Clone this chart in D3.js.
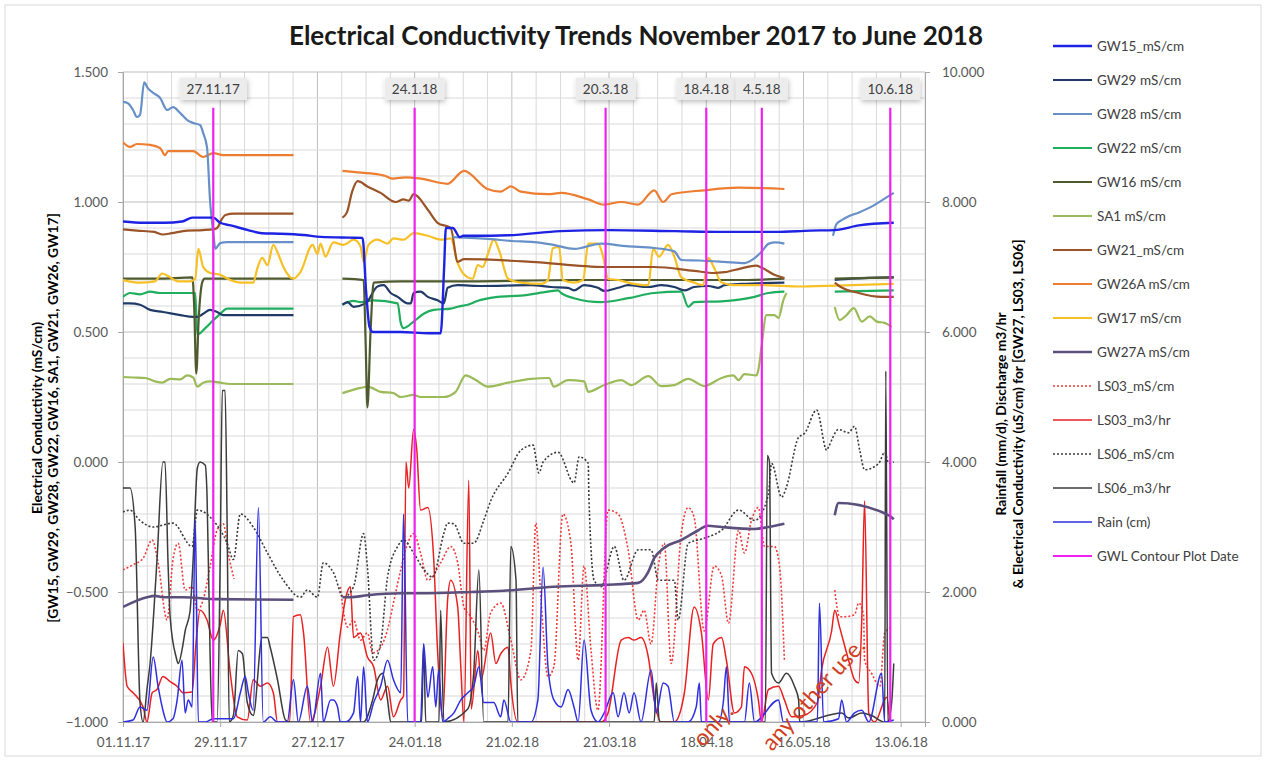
<!DOCTYPE html>
<html>
<head>
<meta charset="utf-8">
<script src="https://cdn.jsdelivr.net/npm/d3@7"></script>
<style>
  body { margin: 0; background: #fff; }
  text { font-family: Lato, "Open Sans", sans-serif; }
</style>
</head>
<body>
<svg id="chart" width="1264" height="760"></svg>
<script>
// Data: [day since 01.11.17, value]; null marks a gap in the record.
var startDate = Date.UTC(2017, 10, 1);

var gw15 = [[0,0.925],[6,0.92],[12,0.92],[17,0.925],[20,0.94],[26,0.94],[28,0.92],[31,0.91],[36,0.892],[40,0.88],[45,0.878],[52,0.873],[57,0.866],[65,0.863],[69,0.862],[70,0.66],[71,0.52],[72,0.5],[80,0.5],[88,0.495],[91.5,0.495],[92.5,0.75],[93,0.9],[95,0.9],[97,0.865],[98,0.87],[101,0.87],[111,0.872],[126,0.888],[140,0.892],[159,0.888],[173,0.885],[188,0.885],[198,0.89],[205,0.892],[212,0.91],[222,0.92]];
var gw29 = [[0,0.61],[2,0.61],[4.9,0.605],[7.8,0.585],[11.5,0.577],[16.5,0.565],[20.2,0.558],[21.4,0.558],[23.1,0.57],[25.1,0.585],[27.1,0.577],[28.9,0.565],[30.9,0.565],[49.1,0.565],[56,null],[63.2,0.605],[64.7,0.615],[66.4,0.597],[69.9,0.61],[73.3,0.675],[75.1,0.68],[77.1,0.65],[79.1,0.635],[82,0.61],[82.9,0.61],[83.7,0.65],[85.7,0.655],[87.8,0.635],[90.6,0.622],[92.4,0.61],[93.5,0.67],[96.4,0.68],[103.1,0.677],[117.5,0.68],[123.3,0.673],[128.2,0.67],[129.9,0.66],[132.8,0.68],[136.8,0.67],[138.6,0.658],[142.6,0.67],[145.5,0.68],[151.3,0.673],[155,0.68],[158.8,0.673],[161.7,0.66],[164.5,0.673],[168.6,0.677],[171.5,0.67],[173.2,0.68],[178.1,0.685],[190.5,0.69],[198,null],[205,0.70],[209.9,0.705],[222,0.71]];
var gw28 = [[0,1.385],[1.4,1.38],[2.9,1.354],[4,1.327],[4.9,1.335],[6.1,1.46],[7.2,1.437],[8.7,1.42],[10.7,1.40],[12.7,1.354],[14.4,1.365],[16.5,1.342],[18.5,1.315],[20.2,1.304],[22.2,1.296],[23.1,1.265],[24.2,1.21],[25.1,1.0],[26,0.88],[26.6,0.82],[28,0.842],[30,0.846],[49.1,0.846],[70,null],[95,0.865],[106,0.857],[112,0.85],[118.4,0.846],[124,0.835],[130,0.82],[137.7,0.84],[145,0.83],[153,0.823],[158.8,0.81],[160.8,0.777],[166,0.775],[173,0.77],[179,0.765],[182,0.785],[184,0.81],[186,0.84],[188,0.845],[190.5,0.84],[198,null],[204.5,0.87],[205.5,0.915],[207,0.93],[209,0.945],[212,0.96],[216,0.985],[219,1.01],[222,1.035]];
var gw22 = [[0,0.635],[2,0.65],[4.9,0.645],[7.8,0.655],[10.7,0.65],[13.6,0.65],[19.3,0.65],[20.8,0.65],[21.4,0.49],[23.7,0.515],[26,0.545],[28,0.57],[30,0.59],[49.1,0.59],[56,null],[63.2,0.605],[66.4,0.62],[68.4,0.615],[72.2,0.622],[79.1,0.61],[80,0.535],[80.8,0.515],[83.7,0.54],[86.6,0.57],[89.5,0.585],[94.4,0.59],[96.4,0.597],[99.3,0.605],[102.2,0.62],[108,0.635],[114.6,0.64],[122.4,0.655],[125.3,0.66],[126.2,0.65],[129.9,0.63],[137.7,0.615],[145.5,0.63],[153,0.65],[160.8,0.655],[162.8,0.597],[164.5,0.615],[172.4,0.618],[181.9,0.635],[185.9,0.65],[190.5,0.655],[198,null],[205,0.655],[222,0.66]];
var gw16 = [[0,0.705],[10,0.705],[20,0.71],[20.5,0.6],[21.1,0.34],[21.8,0.55],[22.8,0.69],[23.5,0.705],[49.1,0.705],[56,null],[63.2,0.705],[69.3,0.70],[69.9,0.45],[70.4,0.21],[71.3,0.5],[72.2,0.69],[80,0.695],[100,0.695],[130,0.70],[160,0.70],[180,0.70],[190.5,0.705],[198,null],[205,0.705],[222,0.71]];
var sa1 = [[0,0.327],[2.9,0.325],[6.4,0.323],[9.2,0.31],[11.3,0.305],[13.6,0.32],[16.5,0.318],[18.5,0.333],[20.2,0.325],[21.4,0.29],[23.1,0.305],[25.1,0.31],[28,0.305],[30.9,0.30],[49.1,0.30],[56,null],[63.2,0.265],[68.4,0.285],[70.4,0.29],[74.2,0.27],[77.9,0.265],[80,0.25],[83.7,0.258],[85.7,0.25],[92.4,0.25],[95.8,0.27],[98.7,0.333],[101.6,0.315],[105.1,0.29],[110.9,0.305],[117.5,0.32],[122.7,0.323],[124.1,0.29],[128.2,0.315],[132.8,0.31],[134,0.27],[138.6,0.296],[143.5,0.315],[146.4,0.296],[151.3,0.33],[155,0.292],[158.8,0.296],[162.8,0.32],[167.4,0.292],[172.4,0.323],[175.8,0.333],[177.3,0.315],[179,0.338],[182.4,0.333],[183,0.354],[183.9,0.442],[185.3,0.565],[187.6,0.565],[188.8,0.554],[190.2,0.623],[191.1,0.65],[198,null],[205,0.596],[206.4,0.546],[208.4,0.565],[210.5,0.592],[212.8,0.54],[215.1,0.56],[217.1,0.54],[219.4,0.535],[221.4,0.52]];
var gw21 = [[0,0.895],[4,0.89],[9,0.885],[11.5,0.875],[14,0.88],[18.5,0.89],[23,0.892],[26,0.895],[27.1,0.9],[28.5,0.935],[29.5,0.95],[32,0.955],[49.1,0.955],[56,null],[63.2,0.94],[64.5,0.96],[66,1.04],[67.6,1.08],[70.4,1.06],[74.2,1.035],[78.5,1.0],[80.8,1.01],[82.3,1.005],[83.7,1.03],[87.8,0.97],[90.6,0.92],[94.4,0.9],[96.4,0.77],[98.2,0.78],[117.5,0.77],[138.6,0.75],[153,0.75],[164.5,0.735],[170.3,0.727],[173.2,0.73],[178.1,0.745],[182.4,0.755],[183.9,0.748],[187.6,0.72],[190.5,0.707],[198,null],[205,0.69],[206.5,0.675],[211.9,0.65],[218.5,0.635],[222,0.635]];
var gw26a = [[0,1.23],[2,1.212],[4,1.223],[7.8,1.22],[10.7,1.207],[12.1,1.18],[13,1.196],[15.6,1.196],[20.2,1.196],[23.1,1.173],[26,1.188],[28.9,1.18],[49.1,1.18],[56,null],[63.2,1.12],[67,1.115],[71.3,1.11],[75.6,1.10],[77.7,1.09],[81.4,1.095],[85.7,1.09],[93.5,1.07],[98.2,1.12],[105,1.05],[108.8,1.04],[111.7,1.06],[114.6,1.04],[122.4,1.03],[126.2,1.035],[134,1.01],[138.6,0.99],[143.5,1.0],[148.4,0.99],[153,1.045],[155.6,1.0],[158,1.03],[167.4,1.045],[177.3,1.055],[190.5,1.05]];
var gw17 = [[0,0.70],[4.9,0.69],[9.2,0.695],[11.3,0.725],[13,0.715],[15.9,0.695],[19.3,0.695],[20.8,0.705],[21.7,0.82],[23.1,0.75],[25.1,0.727],[28,0.72],[30.9,0.70],[33.8,0.69],[37.5,0.69],[38.7,0.745],[40.1,0.785],[41.6,0.757],[43.3,0.835],[44.7,0.80],[46.2,0.75],[49.1,0.705],[51.1,0.73],[54.6,0.835],[56,0.80],[56.9,0.84],[58.3,0.79],[60.6,0.845],[63.5,0.835],[66.4,0.855],[68.4,0.83],[69.3,0.77],[70.7,0.835],[73.3,0.855],[76.2,0.84],[77.9,0.86],[80.8,0.855],[83.7,0.88],[87.8,0.87],[91.5,0.855],[94.4,0.86],[96.4,0.765],[99.3,0.71],[100.7,0.705],[102.2,0.757],[103.6,0.75],[105.1,0.80],[106.8,0.855],[108.3,0.815],[110.9,0.705],[114.6,0.69],[120.4,0.685],[122.4,0.70],[123.8,0.822],[125.6,0.827],[126.7,0.70],[129.9,0.69],[132.5,0.70],[134,0.84],[136.8,0.84],[138.3,0.79],[139.7,0.705],[142.6,0.70],[145.5,0.69],[151.3,0.68],[152.7,0.82],[154.4,0.79],[157,0.835],[158.8,0.79],[160.8,0.71],[164.5,0.69],[167.1,0.68],[168.6,0.785],[170.3,0.745],[172.4,0.69],[176.1,0.68],[183.9,0.68],[195.4,0.675],[209.9,0.68],[222,0.685]];

var gw27a = [[0,1.77],[6.9,1.92],[9.2,1.94],[11.5,1.92],[17.3,1.92],[27.1,1.89],[49.1,1.88],[56,null],[63.2,1.92],[65.5,1.92],[70.4,1.95],[80,1.98],[85.7,1.98],[100.2,2.0],[109.7,2.02],[124.1,2.08],[138.6,2.11],[148.4,2.14],[151.3,2.31],[153,2.52],[155.9,2.68],[160.8,2.8],[165.7,2.95],[168.3,3.02],[172.4,3.0],[181.9,2.97],[185.9,3.0],[190.5,3.05],[198,null],[205,3.18],[206.1,3.37],[220.6,3.18],[222,3.12]];
var ls03Ec = [[0,2.34],[2.9,2.42],[5.8,2.52],[8.4,2.8],[10.1,2.45],[12.7,1.57],[14.4,2.5],[15.9,2.75],[17.9,2.03],[19.9,2.08],[21.4,1.72],[23.1,1.88],[25.1,2.4],[27.1,2.95],[28.9,3.05],[30.3,2.6],[32,2.2],[45,null],[62.6,2.08],[64.7,1.46],[66.4,1.57],[68.4,1.26],[70.4,1.37],[71.9,1.06],[74.2,1.15],[76.2,1.42],[77.9,1.83],[80,2.34],[82,2.75],[83.7,2.9],[85.7,2.6],[87.8,2.18],[91.5,2.45],[94.4,2.7],[96.4,2.45],[98.2,1.77],[100.2,1.62],[102.5,1.35],[103.9,1.1],[105.9,1.68],[108.8,1.83],[111.7,1.26],[114.6,0.65],[117.5,1.1],[118.9,3.06],[120.4,1.88],[122.4,0.7],[124.1,0.85],[126.7,3.2],[129,2.75],[131.1,0.95],[132.8,2.4],[134.8,1.1],[136.8,0.18],[139.7,3.26],[142.6,3.2],[145.5,2.65],[148.4,1.57],[150.1,1.72],[152.1,1.2],[154.2,2.4],[155.9,2.75],[157.9,0.9],[160.8,2.9],[162.8,3.3],[164.5,3.15],[167.4,1.4],[170.3,2.4],[172.4,2.25],[174.4,1.52],[177.3,2.95],[179,2.6],[181,3.1],[183,3.3],[184.8,2.7],[187.6,2.7],[189.1,2.4],[190.5,0.95],[198,null],[205,2.03],[206.4,1.62],[207.9,1.62],[210.7,1.65],[211.9,1.83],[213.3,1.65],[213.6,0.95],[215.6,0.75],[218,0.55],[219.4,1.37],[221.4,1.46]];
var ls03Flow = [[0,1.22],[1.2,0.55],[2.9,0.45],[5.8,0.23],[6.9,0],[8.4,0.45],[9.8,0.5],[11.5,0.7],[13.6,0.62],[15.6,0.55],[17.3,0.45],[19.9,0.46],[21,1.2],[22.2,1.72],[24.2,1.57],[26,1.26],[28,1.5],[28.9,1.72],[30.9,0.75],[32.9,0.08],[35.8,0.03],[37.5,0.65],[39.6,0.55],[41.6,0.6],[43.3,0.45],[44.5,0],[48,0],[49.1,1.62],[51.1,1.65],[52,1.37],[54,0],[56.9,0.55],[58.9,1.15],[60.6,0.55],[62.6,1.37],[64.1,1.9],[65.5,2.08],[66.4,1.3],[68.4,1.37],[70.4,1.0],[72.2,0.85],[74.2,0.34],[76.2,0.55],[77.9,0.08],[80,0.34],[80.8,0.4],[81.5,4.0],[82.3,3.6],[83.7,4.5],[84.6,4.2],[85.7,3.26],[87.8,3.3],[89.5,2.5],[90.6,1.1],[92.1,0.08],[93.5,1.88],[94.4,2.18],[96.4,1.77],[97.3,0.85],[98.2,0],[99.6,3.72],[100.3,0.2],[102.2,1.1],[103.1,0.65],[105.9,1.37],[107.4,0.9],[108.8,1.05],[110.9,1.15],[111.7,0.6],[113.7,0],[137.7,0],[139.7,0.14],[143.5,1.26],[145.5,1.3],[147.2,1.26],[149.2,1.3],[151.3,1.0],[153,0.34],[155,0],[158.8,0],[161.7,0.45],[164.5,1.77],[166.6,1.37],[168.6,0.34],[170,1.2],[172.4,1.3],[173.8,0.95],[176.1,0.14],[178.1,0.23],[179,0.85],[181,0.75],[183,0.34],[183.9,0],[185.9,0.5],[188.8,0.55],[190.5,0.34],[192.6,0.08],[196,0.1],[200,0.3],[201.2,0.8],[204.1,1.4],[205,1.72],[206.4,1.46],[209,0.95],[210.7,0.65],[211.9,0.6],[212.8,1.6],[213.6,3.4],[214.8,0.14],[216.5,0],[220,0.38],[220.8,0]];
var ls06Ec = [[0,3.23],[2,3.26],[4.9,3.1],[8.7,3.0],[14.4,3.06],[19.9,2.7],[21.4,3.26],[26,3.1],[30,2.75],[31.8,2.5],[33.8,3.2],[37.5,3.0],[41.6,2.6],[46.2,2.18],[51.1,1.92],[53.1,2.03],[56,1.92],[57.7,2.45],[60.6,2.3],[63.5,1.92],[66.4,2.08],[69.3,2.9],[70.4,2.38],[72.2,0.95],[74.2,1.2],[76.2,2.23],[79.1,2.7],[80.8,2.8],[83.7,2.6],[86.6,2.35],[89.2,2.23],[92.4,2.9],[93.5,3.06],[95.3,3.05],[98.2,2.75],[101,2.75],[103.9,3.1],[105.9,3.4],[110.9,3.83],[114.6,4.18],[118.1,4.26],[119.8,3.83],[121,4.0],[125.3,4.15],[129.9,3.68],[131.4,4.08],[134,3.98],[134.2,3.46],[135.7,2.18],[137.7,2.08],[141.5,2.7],[144.3,2.18],[148.4,2.65],[152.1,2.65],[154.2,2.18],[158.8,2.18],[159.9,1.57],[162.8,2.75],[165.7,2.8],[168.6,2.85],[172.4,2.95],[177.3,3.26],[181.9,3.1],[185.9,3.5],[186.8,3.98],[189.7,3.46],[191,3.6],[194.6,4.38],[196.3,4.44],[199.8,4.8],[202.7,4.18],[203.2,4.23],[206.1,4.5],[209,4.45],[210.7,4.55],[212.2,4.18],[213.6,3.88],[217.7,3.98],[219.4,4.15],[220.6,3.98],[222,4.0]];
var ls06Flow = [[0,3.6],[2,3.6],[3.5,3.0],[4.9,0.3],[5.8,0],[6.9,0.5],[7.8,0.9],[9.8,2.5],[11.5,4.0],[12.1,4.0],[13,2.4],[13.6,1.6],[15.3,1.0],[15.9,0.9],[17.3,1.2],[17.9,1.4],[19.3,1.7],[20.2,2.5],[21.4,3.9],[22.2,4.0],[23.7,3.95],[24.2,3.5],[25.1,1.0],[25.7,0],[27.1,0],[28,2.5],[28.6,5.1],[29.4,5.1],[30,3.0],[30.6,0],[31.8,0.1],[33.2,1.1],[34.4,1.05],[35.8,0.3],[37.5,0.1],[40.1,1.3],[41.6,1.3],[42.4,1.15],[44.5,0.65],[46.8,0.03],[48,0],[69.3,0],[71.9,0.34],[73.3,0.65],[74.8,0.75],[76.2,0.34],[77.1,0],[86,0],[86.6,1.2],[87.2,0],[91,0],[91.5,1.72],[92.4,0],[99.3,0.2],[101,0.75],[102.5,2.34],[103.9,0],[110.9,0],[111.7,2.7],[113.2,2.18],[113.7,0],[153,0],[153.6,0.6],[154.5,0],[185,0],[185.6,4.1],[186.2,4.0],[186.8,0.75],[188.8,0.6],[191.1,0.75],[193.4,0.55],[194.6,0.34],[194.9,0],[207,0.14],[209,0.06],[212.8,0.14],[215.6,0.1],[219.4,0],[219.7,5.4],[220.3,0],[221.4,0.3],[222,0.9]];
var rain = [[0,0],[2.9,0.03],[4.9,0.23],[6.9,0.18],[8.7,1.0],[10.1,0.55],[11.5,0.18],[12.7,0],[14.4,0.05],[15.6,0.34],[17,0.95],[17.9,0.14],[18.8,0.34],[19.9,0.23],[20.8,3.1],[21.7,0],[23.7,0],[26,0.05],[28,0.05],[31.8,0.05],[33.8,0.45],[35.2,0.7],[36.1,0.45],[37.5,0.18],[39,3.3],[40.4,0],[42.4,0.08],[44.5,0],[47.3,0],[49.1,0.65],[50.5,0],[53.1,0.55],[54.6,0],[56.9,0.75],[57.7,0],[59.8,0.34],[60.6,0.34],[61.8,0.23],[62.6,0],[64.1,0],[66.4,0.14],[67.6,0.7],[68.4,0],[69.3,0.85],[70.4,0],[72.2,0.3],[74.2,0.55],[76.2,0.95],[77.9,0.65],[80,0.45],[80.8,3.2],[82,0],[85.7,0],[86.6,1.2],[87.8,0.38],[89.2,0.85],[90.1,0.23],[90.9,0.8],[92.1,0],[93.5,0.05],[95.3,0.14],[97.3,0.34],[99.3,0.45],[101,0.55],[102.5,0.85],[103.9,0.3],[106.8,0.3],[108.8,0.08],[109.7,0.34],[111.7,0],[117.5,0],[119.5,0.34],[121,2.38],[122.4,0.85],[124.1,0.34],[126.2,0.23],[128.2,0.5],[129.9,0.23],[131.1,0],[132.8,1.26],[134.8,0.18],[136.8,0],[138.6,0.14],[141.2,0.45],[142.6,0.08],[144.3,0.45],[145.8,0.14],[147.2,0.45],[149.2,0],[152.1,0.8],[153.6,0.14],[155.6,0.6],[157,0.55],[158.8,0],[162.8,0],[165.1,0.23],[166,0.6],[166.6,0],[171.5,0],[172.9,0.3],[173.8,0.85],[174.7,0],[179,0],[180.4,0.6],[181.9,0],[188.8,0.34],[190.2,0],[200,0],[200.6,1.83],[201.8,0],[206.1,0.05],[207,0.34],[208.4,0],[210.7,0.14],[212.8,0.18],[214.8,0],[218.5,0.75],[219.4,0],[222,0.03]];

// GWL contour plot dates (day number) and their labels.
var contourDays = [26, 84, 139, 168, 184, 221];
var contourLabels = ["27.11.17", "24.1.18", "20.3.18", "18.4.18", "4.5.18", "10.6.18"];
var contourTop = 9.45;

var leftTicks = [-1, -0.5, 0, 0.5, 1, 1.5];
var rightTicks = [0, 2, 4, 6, 8, 10];
var labelDays = [0, 28, 56, 84, 112, 140, 168, 196, 224];

var series = [
  { name: "LS03_mS/cm", data: ls03Ec, axis: "right", color: "#f03a3a", width: 1.6, dash: "2,2" },
  { name: "LS03_m3/hr", data: ls03Flow, axis: "right", color: "#e82020", width: 1.5 },
  { name: "LS06_mS/cm", data: ls06Ec, axis: "right", color: "#3a3a3a", width: 1.6, dash: "2,2" },
  { name: "LS06_m3/hr", data: ls06Flow, axis: "right", color: "#3b3b3b", width: 1.5 },
  { name: "Rain (cm)", data: rain, axis: "right", color: "#2f2fe0", width: 1.5 },
  { name: "GW27A mS/cm", data: gw27a, axis: "right", color: "#5b4f7c", width: 2.6 },
  { name: "SA1 mS/cm", data: sa1, axis: "left", color: "#9bbb59", width: 2.2 },
  { name: "GW22 mS/cm", data: gw22, axis: "left", color: "#1fae5e", width: 2.2 },
  { name: "GW29 mS/cm", data: gw29, axis: "left", color: "#213b68", width: 2.2 },
  { name: "GW16 mS/cm", data: gw16, axis: "left", color: "#4f5b2e", width: 2.2 },
  { name: "GW17 mS/cm", data: gw17, axis: "left", color: "#f6c026", width: 2.2 },
  { name: "GW21_mS/cm", data: gw21, axis: "left", color: "#9a5428", width: 2.2 },
  { name: "GW26A mS/cm", data: gw26a, axis: "left", color: "#ed7d31", width: 2.2 },
  { name: "GW28 mS/cm", data: gw28, axis: "left", color: "#6790c8", width: 2.2 },
  { name: "GW15_mS/cm", data: gw15, axis: "left", color: "#1e22e2", width: 2.4 }
];

var legendOrder = ["GW15_mS/cm", "GW29 mS/cm", "GW28 mS/cm", "GW22 mS/cm", "GW16 mS/cm",
  "SA1 mS/cm", "GW21_mS/cm", "GW26A mS/cm", "GW17 mS/cm", "GW27A mS/cm", "LS03_mS/cm",
  "LS03_m3/hr", "LS06_mS/cm", "LS06_m3/hr", "Rain (cm)", "GWL Contour Plot Date"];
var contourColor = "#ee22ee";

function toDate(day) {
  return new Date(startDate + day * 864e5);
}

var svg = d3.select("#chart");

// Outer frame of the chart.
svg.append("rect")
  .attr("x", 5).attr("y", 5).attr("width", 1256).attr("height", 751)
  .attr("fill", "#fff").attr("stroke", "#d9d9d9");

var x = d3.scaleUtc().domain([toDate(0), toDate(231)]).range([123, 925]);
var yL = d3.scaleLinear().domain([-1, 1.5]).range([722, 72]);
var yR = d3.scaleLinear().domain([0, 10]).range([722, 72]);

// Gridlines: minor every week / 0.1, major every 4 weeks / 0.5.
var grid = svg.append("g");
d3.range(0, 232, 7).forEach(function (d) {
  grid.append("line")
    .attr("x1", x(toDate(d))).attr("x2", x(toDate(d)))
    .attr("y1", 72).attr("y2", 722)
    .attr("stroke", d % 28 === 0 ? "#bfbfbf" : "#d9d9d9").attr("stroke-width", 1);
});
d3.range(-10, 16).forEach(function (i) {
  var v = i / 10;
  grid.append("line")
    .attr("x1", 123).attr("x2", 925)
    .attr("y1", yL(v)).attr("y2", yL(v))
    .attr("stroke", i % 5 === 0 ? "#bfbfbf" : "#d9d9d9").attr("stroke-width", 1);
});

// Axes.
function styleAxis(g) {
  g.selectAll("path").attr("stroke", "#a6a6a6");
  g.selectAll("line").attr("stroke", "#a6a6a6");
  g.selectAll("text").attr("fill", "#595959").attr("font-size", 13.5)
    .attr("font-family", "Lato, sans-serif");
}

svg.append("g")
  .attr("transform", "translate(123,0)")
  .call(d3.axisLeft(yL).tickValues(leftTicks).tickFormat(d3.format(".3f")).tickSize(5).tickPadding(10))
  .call(styleAxis);

svg.append("g")
  .attr("transform", "translate(925,0)")
  .call(d3.axisRight(yR).tickValues(rightTicks).tickFormat(d3.format(".3f")).tickSize(5).tickPadding(12))
  .call(styleAxis);

svg.append("g")
  .attr("transform", "translate(0,722)")
  .call(d3.axisBottom(x).tickValues(labelDays.map(toDate)).tickFormat(d3.utcFormat("%d.%m.%y")).tickSize(5).tickPadding(10))
  .call(styleAxis);

// Data lines.
var clip = svg.append("clipPath").attr("id", "plot-clip");
clip.append("rect").attr("x", 123).attr("y", 72).attr("width", 802).attr("height", 650);

var plot = svg.append("g").attr("clip-path", "url(#plot-clip)");

series.forEach(function (s) {
  var yScale = s.axis === "left" ? yL : yR;
  var line = d3.line()
    .defined(function (d) { return d[1] != null; })
    .x(function (d) { return x(toDate(d[0])); })
    .y(function (d) { return yScale(d[1]); })
    .curve(d3.curveMonotoneX);
  plot.append("path")
    .datum(s.data)
    .attr("d", line)
    .attr("fill", "none")
    .attr("stroke", s.color)
    .attr("stroke-width", s.width)
    .attr("stroke-dasharray", s.dash || null)
    .attr("stroke-linejoin", "round");
});

// Contour plot date markers with their label boxes.
var defs = svg.append("defs");
var shadow = defs.append("filter").attr("id", "shadow")
  .attr("x", "-30%").attr("y", "-50%").attr("width", "160%").attr("height", "200%");
shadow.append("feDropShadow").attr("dx", 1).attr("dy", 2).attr("stdDeviation", 2.5)
  .attr("flood-color", "#000").attr("flood-opacity", 0.25);

contourDays.forEach(function (d, i) {
  var cx = x(toDate(d));
  svg.append("line")
    .attr("x1", cx).attr("x2", cx)
    .attr("y1", yR(0)).attr("y2", yR(contourTop))
    .attr("stroke", contourColor).attr("stroke-width", 2.2);

  var label = svg.append("g").attr("transform", "translate(" + cx + ",89)");
  var t = label.append("text")
    .attr("text-anchor", "middle").attr("dy", "0.35em")
    .attr("font-size", 13.5).attr("fill", "#404040")
    .text(contourLabels[i]);
  var w = t.node().getComputedTextLength() + 14;
  label.insert("rect", "text")
    .attr("x", -w / 2).attr("y", -11).attr("width", w).attr("height", 22)
    .attr("fill", "#ececec").attr("filter", "url(#shadow)");
});

// Title.
svg.append("text")
  .attr("x", 636).attr("y", 45)
  .attr("text-anchor", "middle")
  .attr("font-size", 26).attr("font-weight", "bold").attr("fill", "#1a1a1a")
  .text("Electrical Conductivity Trends November 2017 to June 2018");

// Axis titles.
var leftTitle = ["Electrical Conductivity (mS/cm)", "[GW15, GW29, GW28, GW22, GW16, SA1, GW21, GW26, GW17]"];
leftTitle.forEach(function (t, i) {
  svg.append("text")
    .attr("transform", "translate(" + (37 + i * 16) + ",418) rotate(-90)")
    .attr("text-anchor", "middle").attr("dy", "0.35em")
    .attr("font-size", 13.8).attr("font-weight", "bold").attr("fill", "#000")
    .text(t);
});
var rightTitle = ["Rainfall (mm/d), Discharge m3/hr", "& Electrical Conductivity (uS/cm) for [GW27, LS03, LS06]"];
rightTitle.forEach(function (t, i) {
  svg.append("text")
    .attr("transform", "translate(" + (1001 + i * 17) + ",414) rotate(-90)")
    .attr("text-anchor", "middle").attr("dy", "0.35em")
    .attr("font-size", 13.8).attr("font-weight", "bold").attr("fill", "#000")
    .text(t);
});

// Legend.
var byName = {};
series.forEach(function (s) { byName[s.name] = s; });
byName["GWL Contour Plot Date"] = { color: contourColor, width: 2.2 };

var legend = svg.append("g");
legendOrder.forEach(function (name, i) {
  var s = byName[name];
  var ly = 46 + i * 34;
  legend.append("line")
    .attr("x1", 1053).attr("x2", 1092).attr("y1", ly).attr("y2", ly)
    .attr("stroke", s.color).attr("stroke-width", Math.min(s.width, 2.4))
    .attr("stroke-dasharray", s.dash || null);
  legend.append("text")
    .attr("x", 1097).attr("y", ly).attr("dy", "0.35em")
    .attr("font-size", 13.5).attr("fill", "#404040")
    .text(name);
});

// Watermark fragments printed over the source image.
var watermark = [
  { text: "only.", x: 703, y: 748 },
  { text: "any other use.", x: 772, y: 752 }
];
watermark.forEach(function (w) {
  svg.append("text")
    .attr("transform", "translate(" + w.x + "," + w.y + ") rotate(-48)")
    .attr("font-family", "'Liberation Serif', serif")
    .attr("font-size", 23).attr("fill", "#cf3f22")
    .text(w.text);
});
</script>
</body>
</html>
